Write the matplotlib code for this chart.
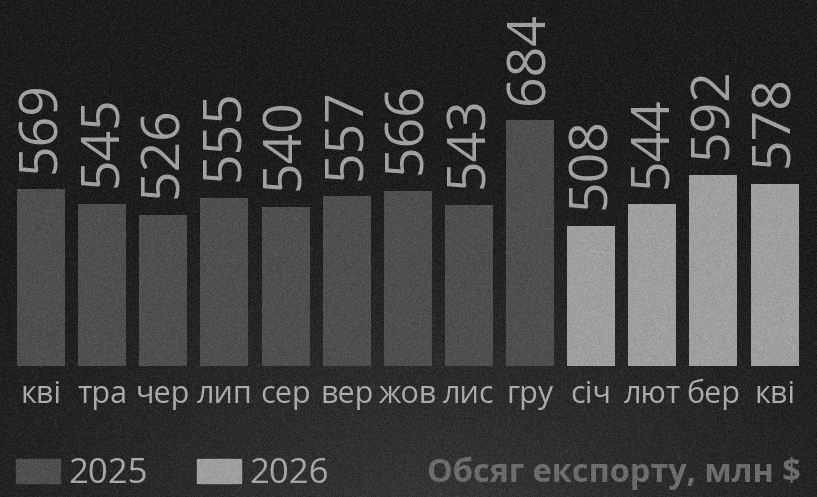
import numpy as np
import matplotlib
matplotlib.use("Agg")
import matplotlib.pyplot as plt
from matplotlib.patches import Rectangle
import matplotlib.transforms as mtransforms

# ---- data ----
months = ["кві", "тра", "чер", "лип", "сер", "вер", "жов", "лис", "гру",
          "січ", "лют", "бер", "кві"]
values = [569, 545, 526, 555, 540, 557, 566, 543, 684,
          508, 544, 592, 578]
years = ["2025"] * 9 + ["2026"] * 4
legend_labels = ["2025", "2026"]
title_text = "Обсяг експорту, млн $"

# ---- style ----
W, H, DPI = 817, 497, 100
col = {"2025": "#4a4a4a", "2026": "#a3a3a3"}
txt_col = "#a6a6a6"
font = ["Open Sans", "DejaVu Sans"]
plt.rcParams["font.family"] = font

fig = plt.figure(figsize=(W / DPI, H / DPI), dpi=DPI)

# background radial gradient
bg = fig.add_axes([0, 0, 1, 1], zorder=0)
yy, xx = np.mgrid[0:H, 0:W]
d = np.sqrt(((xx - 430) / 620.0) ** 2 + ((yy - 560) / 430.0) ** 2)
lum = 0.072 + 0.135 * np.clip(1 - d, 0, 1) ** 1.3
bg.imshow(np.dstack([lum] * 3), extent=[0, W, H, 0], aspect="auto")
bg.set_xlim(0, W)
bg.set_ylim(H, 0)
bg.axis("off")

# main bar axes
base_px = 365.7
ax = fig.add_axes([0, 1 - base_px / H, 1, base_px / H], zorder=1)
ax.patch.set_alpha(0)
x = np.arange(len(values))
colors = [col[y] for y in years]
ax.bar(x, values, width=0.785, color=colors, linewidth=0)
ax.set_xlim(-0.671, 12.695)
ymin = 275
ax.set_ylim(ymin, ymin + base_px / 0.6)
for s in ax.spines.values():
    s.set_visible(False)
ax.set_xticks([])
ax.set_yticks([])

for i, v in enumerate(values):
    ax.annotate(str(v), (i, v), xytext=(0, 12), textcoords="offset points",
                rotation=90, ha="center", va="bottom", fontsize=38.5,
                color=txt_col, family=font)

trans = mtransforms.blended_transform_factory(ax.transData, fig.transFigure)
for i, m in enumerate(months):
    ax.text(i, 1 - 402.7 / H, m, transform=trans, ha="center", va="baseline",
            fontsize=22, color="#b0b0b0", family=font)

# legend
for j, lab in enumerate(legend_labels):
    x0 = [16, 197][j]
    fig.patches.append(Rectangle((x0 / W, 1 - 482.7 / H), 44 / W, 23.7 / H,
                                 transform=fig.transFigure, color=col[lab],
                                 zorder=2))
    fig.text((x0 + 52) / W, 1 - 482.7 / H, lab, ha="left", va="baseline",
             fontsize=25, color="#acacac", family=font, zorder=3)

fig.text(801 / W, 1 - 481.7 / H, title_text, ha="right", va="baseline",
         fontsize=23.3, fontweight="bold", color="#6b6b6b", family=font, zorder=3)

# grain overlay
ov = fig.add_axes([0, 0, 1, 1], zorder=10)
rng = np.random.default_rng(3)
g = rng.normal(0.5, 0.25, (H, W)).clip(0, 1)
ov.imshow(np.dstack([g, g, g, np.full_like(g, 0.10)]), extent=[0, W, H, 0],
          aspect="auto", interpolation="nearest")
ov.set_xlim(0, W)
ov.set_ylim(H, 0)
ov.axis("off")

fig.savefig("out.png", dpi=DPI)
